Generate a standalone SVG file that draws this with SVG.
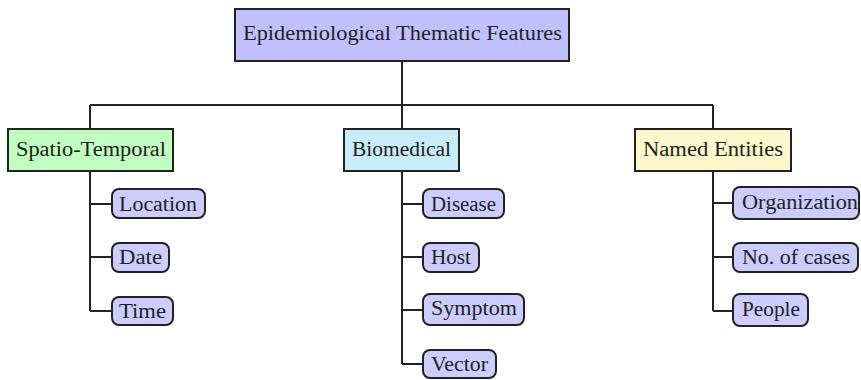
<svg xmlns="http://www.w3.org/2000/svg" width="861" height="380" viewBox="0 0 861 380" font-family="'Liberation Serif', 'Times New Roman', serif">
<style>
.box{stroke:#222;stroke-width:2}
.root{fill:#c0c0ff}
.st{fill:#c0ffc0}
.bio{fill:#c8ecf8}
.ne{fill:#fff8cc}
.leaf{fill:#ccccff;stroke:#222;stroke-width:2}
text{font-family:'Liberation Serif','Times New Roman',serif;font-size:20px;fill:#222}
.conn{fill:none;stroke:#222;stroke-width:2}
</style>
<rect width="861" height="380" fill="#fff"/>
<g id="connectors">
<path class="conn" d="M402 61V105M90 105H713M90 105V129M402 105V129M713 105V129"/>
<path class="conn" d="M90 171V311M90 204H112M90 257H112M90 311H112"/>
<path class="conn" d="M402 171V364M402 204H423M402 257H423M402 310H423M402 364H423"/>
<path class="conn" d="M713 171V311M713 203H733M713 257H733M713 311H733"/>
</g>
<g id="root"><rect class="box root" x="235" y="9" width="334" height="52"/><text x="243" y="40" textLength="319" lengthAdjust="spacingAndGlyphs">Epidemiological Thematic Features</text></g>
<g id="spatio"><rect class="box st" x="8" y="129" width="165" height="42"/><text x="16" y="156" textLength="150" lengthAdjust="spacingAndGlyphs">Spatio-Temporal</text></g>
<g id="biomedical"><rect class="box bio" x="344" y="129" width="115" height="42"/><text x="352" y="156" textLength="99" lengthAdjust="spacingAndGlyphs">Biomedical</text></g>
<g id="named"><rect class="box ne" x="635" y="129" width="156" height="42"/><text x="643" y="156" textLength="140" lengthAdjust="spacingAndGlyphs">Named Entities</text></g>
<g id="location"><rect class="leaf" x="112" y="189" width="93" height="29" rx="7"/><text x="119" y="211" textLength="78" lengthAdjust="spacingAndGlyphs">Location</text></g>
<g id="date"><rect class="leaf" x="112" y="243" width="57" height="29" rx="7"/><text x="119" y="264" textLength="43" lengthAdjust="spacingAndGlyphs">Date</text></g>
<g id="time"><rect class="leaf" x="112" y="297" width="61" height="28" rx="7"/><text x="119" y="318" textLength="47" lengthAdjust="spacingAndGlyphs">Time</text></g>
<g id="disease"><rect class="leaf" x="423" y="189" width="81" height="29" rx="7"/><text x="431" y="211" textLength="65" lengthAdjust="spacingAndGlyphs">Disease</text></g>
<g id="host"><rect class="leaf" x="423" y="243" width="56" height="29" rx="7"/><text x="431" y="264" textLength="40" lengthAdjust="spacingAndGlyphs">Host</text></g>
<g id="symptom"><rect class="leaf" x="423" y="294" width="101" height="31" rx="7"/><text x="431" y="315" textLength="86" lengthAdjust="spacingAndGlyphs">Symptom</text></g>
<g id="vector"><rect class="leaf" x="423" y="350" width="73" height="28" rx="7"/><text x="431" y="371" textLength="57" lengthAdjust="spacingAndGlyphs">Vector</text></g>
<g id="organization"><rect class="leaf" x="733" y="187" width="126" height="32" rx="7"/><text x="742" y="209" textLength="116" lengthAdjust="spacingAndGlyphs">Organization</text></g>
<g id="cases"><rect class="leaf" x="733" y="243" width="125" height="29" rx="7"/><text x="742" y="264" textLength="108" lengthAdjust="spacingAndGlyphs">No. of cases</text></g>
<g id="people"><rect class="leaf" x="733" y="294" width="75" height="32" rx="7"/><text x="742" y="316" textLength="58" lengthAdjust="spacingAndGlyphs">People</text></g>
</svg>
